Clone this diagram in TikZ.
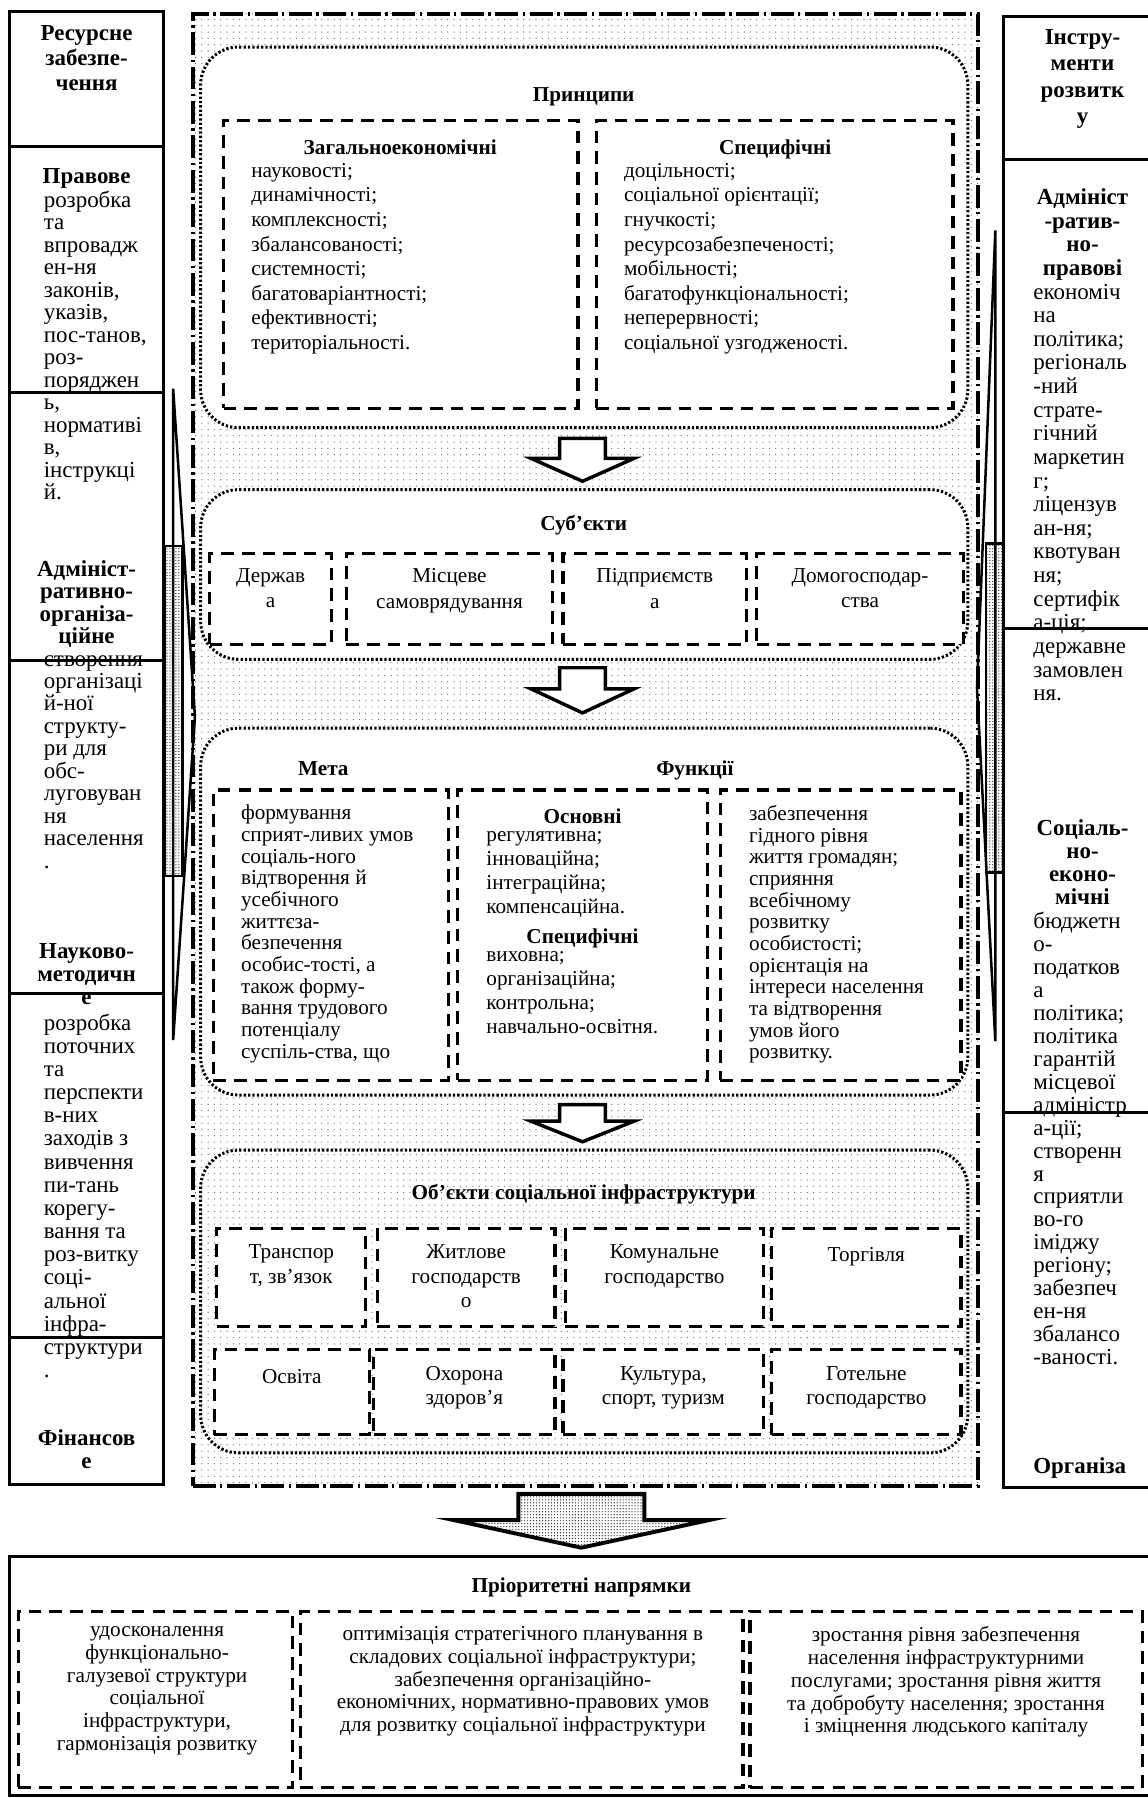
\documentclass[tikz,border=0pt]{standalone}
\usepackage{fontspec}
\setmainfont{Liberation Serif}
\usetikzlibrary{calc,patterns.meta}
\tikzset{
	column box/.style={draw, line width=2.6pt},
	main frame/.style={
		draw,
		line width=3.4pt,
		dash pattern=on 20pt off 4pt on 2pt off 4pt,
		pattern={Dots[distance=5.5pt,radius=.55pt]},
		pattern color=black!60,
		inner sep=0pt
	},
	round frame/.style={
		draw,
		rounded corners=33pt,
		line width=2.6pt,
		dash pattern=on 2pt off 1.8pt,
		inner sep=0pt
	},
	cell box/.style={
		draw,
		fill=white,
		line width=2.8pt,
		dash pattern=on 11pt off 7pt,
		inner sep=0pt
	},
	dense dots/.style={pattern={Dots[distance=2.6pt,radius=.6pt]}, pattern color=black!80},
	wedge line/.style={draw, line width=2.2pt, line join=miter},
	hollow arrow/.style={draw, fill=white, line width=3pt, line join=miter},
	big arrow/.style={draw, dense dots, line width=3.4pt, line join=miter}
}
\tikzset{
	base text/.style={inner sep=0pt, execute at begin node=\strut},
	head text/.style={base text, anchor=north, align=center, font=\fontsize{18.5}{21.4}\selectfont\bfseries},
	list text/.style={base text, anchor=north west, align=left, font=\fontsize{18.5}{#1}\selectfont},
	cell text/.style={base text, anchor=north, align=center, font=\fontsize{18.5}{#1}\selectfont},
	col head/.style={base text, anchor=north, align=center, font=\fontsize{20}{#1}\selectfont\bfseries},
	col head/.default=20.2,
	col text/.style={base text, anchor=north west, align=left, font=\fontsize{20}{#1}\selectfont},
	col text/.default=20.2
}
% block arrow: style, start, tip, half shaft, half head, head length
\newcommand{\blockarrow}[6]{%
	\draw[#1] let \p1=#2, \p2=#3 in
		(\x1-#4,\y1) -- (\x1+#4,\y1) -- (\x1+#4,\y2+#6) -- (\x1+#5,\y2+#6)
		-- (\x1,\y2) -- (\x1-#5,\y2+#6) -- (\x1-#4,\y2+#6) -- cycle;
}
\begin{document}
\begin{tikzpicture}[x=1pt,y=-1pt]
	\useasboundingbox (0,0) rectangle (1001,1568);
	\node[main frame, minimum width=685, minimum height=1284] (frame) at (510.5,654) {};

	% side columns
	\draw[wedge line] (151,339) -- (170,625) -- (151,907) -- cycle;
	\draw[wedge line, dense dots] (144,476) rectangle (159,764);
	\draw[wedge line] (868,201) -- (852,600) -- (868,908) -- cycle;
	\draw[wedge line, dense dots] (860,474) rectangle (875,761);
	\draw[column box, fill=white] (8,10) rectangle (143,1295);
	\foreach \y in {128,342,576,866,1166}
		\draw[column box] (8,\y) -- (143,\y);
	\draw[column box, fill=white] (875,14) rectangle (1012,1297);
	\foreach \y in {139,548,970}
		\draw[column box] (875,\y) -- (1012,\y);

	\node[col head=21.7] (res-h) at (75.5,22.1) {Ресурсне\\забезпе-\\чення};
	\node[col head=19.6] (law-h) at (75.5,145.9) {Правове};
	\node[col text=19.6] (law-t) at (38,166.3) {розробка\\та\\впровадж\\ен-ня\\законів,\\указів,\\пос-танов,\\роз-\\поряджен\\ь,\\нормативі\\в,\\інструкці\\й.};
	\node[col head=19.6] (adm-h) at (75.5,488.6) {Адмініст-\\ративно-\\організа-\\ційне};
	\node[col text=19.6] (adm-t) at (38,571.2) {створення\\організаці\\й-ної\\структу-\\ри для\\обс-\\луговуван\\ня\\населення\\.};
	\node[col head] (sci-h) at (75.5,822.4) {Науково-\\методичн\\е};
	\node[col text] (sci-t) at (38,883.8) {розробка\\поточних\\та\\перспекти\\в-них\\заходів з\\вивчення\\пи-тань\\корегу-\\вання та\\роз-витку\\соці-\\альної\\інфра-\\структури\\.};
	\node[col head] (fin-h) at (75.5,1246.4) {Фінансов\\е};

	\node[col head=23] (tool-h) at (944,25.5) {Інстру-\\менти\\розвитк\\у};
	\node[col head=20.6] (admr-h) at (944,164.2) {Адмініст\\-ратив-\\но-\\правові};
	\node[col text=20.6] (admr-t) at (901,247.4) {економіч\\на\\політика;\\регіональ\\-ний\\страте-\\гічний\\маркетин\\г;\\ліцензув\\ан-ня;\\квотуван\\ня;\\сертифік\\а-ція;\\державне\\замовлен\\ня.};
	\node[col head=20] (soc-h) at (944,714.6) {Соціаль-\\но-\\еконо-\\мічні};
	\node[col text=20] (soc-t) at (901,795.4) {бюджетн\\о-\\податков\\а\\політика;\\політика\\гарантій\\місцевої\\адміністр\\а-ції;\\створенн\\я\\сприятли\\во-го\\іміджу\\регіону;\\забезпеч\\ен-ня\\збалансо\\-ваності.};
	\node[col head, anchor=north west] (org-h) at (901,1270.6) {Організа};

	% principles
	\node[round frame, fill=white, minimum width=669, minimum height=332] (prin) at (509.5,207) {};
	\node[cell box, minimum width=309, minimum height=251] (prin-gen) at (349.5,230.5) {};
	\node[cell box, minimum width=311, minimum height=251] (prin-spec) at (675.5,230.5) {};
	\node[head text] (prin-t) at (509,73.3) {Принципи};
	\node[head text] (gen-h) at (349,119.3) {Загальноекономічні};
	\node[list text=21.4] (gen-t) at (219,142.3) {науковості;\\динамічності;\\комплексності;\\збалансованості;\\системності;\\багатоваріантності;\\ефективності;\\територіальності.};
	\node[head text] (spec-h) at (676,119.3) {Специфічні};
	\node[list text=21.4] (spec-t) at (544,142.3) {доцільності;\\соціальної орієнтації;\\гнучкості;\\ресурсозабезпеченості;\\мобільності;\\багатофункціональності;\\неперервності;\\соціальної узгодженості.};

	% subjects
	\node[round frame, fill=white, minimum width=669, minimum height=148] (subj) at (509.5,501) {};
	\node[head text] (subj-t) at (509,447.3) {Суб’єкти};
	\node[cell box, minimum width=106, minimum height=79] (state) at (236,522.5) {};
	\node[cell box, minimum width=180, minimum height=79] (local) at (392,522.5) {};
	\node[cell box, minimum width=160, minimum height=79] (firm) at (571,522.5) {};
	\node[cell box, minimum width=180, minimum height=79] (home) at (750,522.5) {};
	\node[cell text=22] (state-t) at (state.center |- 0,495.9) {Держав\\а};
	\node[cell text=22] (local-t) at (local.center |- 0,495.9) {Місцеве\\самоврядування};
	\node[cell text=22] (firm-t) at (firm.center |- 0,495.9) {Підприємств\\а};
	\node[cell text=22] (home-t) at (home.center |- 0,495.9) {Домогосподар-\\ства};

	% goal and functions
	\node[round frame, fill=white, minimum width=669, minimum height=320] (goal) at (509.5,795) {};
	\node[cell box, minimum width=205, minimum height=253] (goal-c) at (288.5,815.5) {};
	\node[cell box, minimum width=218, minimum height=253] (func-c) at (508,815.5) {};
	\node[cell box, minimum width=210, minimum height=253] (task-c) at (733,815.5) {};
	\node[head text] (goal-h) at (282,661) {Мета};
	\node[head text] (func-h) at (606,661) {Функції};
	\node[list text=18.9] (goal-t) at (210,702) {формування\\сприят-ливих умов\\соціаль-ного\\відтворення й\\усебічного\\життєза-\\безпечення\\особис-тості, а\\також форму-\\вання трудового\\потенціалу\\суспіль-ства, що};
	\node[head text] (basic-h) at (508,702.6) {Основні};
	\node[list text=21] (basic-t) at (424,724.8) {регулятивна;\\інноваційна;\\інтеграційна;\\компенсаційна.};
	\node[head text] (fspec-h) at (508,807.6) {Специфічні};
	\node[list text=21] (fspec-t) at (424,829.8) {виховна;\\організаційна;\\контрольна;\\навчально-освітня.};
	\node[list text=18.9] (task-t) at (653,702) {забезпечення\\гідного рівня\\життя громадян;\\сприяння\\всебічному\\розвитку\\особистості;\\орієнтація на\\інтереси населення\\та відтворення\\умов його\\розвитку.};

	% objects
	\node[round frame, minimum width=669, minimum height=264] (obj) at (509.5,1135) {};
	\node[head text] (obj-t) at (509,1031.3) {Об’єкти соціальної інфраструктури};
	\node[cell box, minimum width=130, minimum height=86] (trans) at (254,1114) {};
	\node[cell box, minimum width=155, minimum height=86] (house) at (406.5,1114) {};
	\node[cell box, minimum width=173, minimum height=86] (comm) at (579.5,1114) {};
	\node[cell box, minimum width=165, minimum height=86] (trade) at (755.5,1114) {};
	\node[cell box, minimum width=135, minimum height=74] (edu) at (254.5,1214) {};
	\node[cell box, minimum width=158, minimum height=74] (health) at (405,1214) {};
	\node[cell box, minimum width=175, minimum height=74] (cult) at (578.5,1214) {};
	\node[cell box, minimum width=165, minimum height=74] (hotel) at (755.5,1214) {};
	\node[cell text=21] (trans-t) at (trans.center |- 0,1085.6) {Транспор\\т, зв’язок};
	\node[cell text=21] (house-t) at (house.center |- 0,1085.6) {Житлове\\господарств\\о};
	\node[cell text=21] (comm-t) at (comm.center |- 0,1085.6) {Комунальне\\господарство};
	\node[cell text=21] (trade-t) at (trade.center |- 0,1085.6) {Торгівля};
	\node[cell text=21] (edu-t) at (edu.center |- 0,1191.6) {Освіта};
	\node[cell text=21] (health-t) at (health.center |- 0,1191.6) {Охорона\\здоров’я};
	\node[cell text=21] (cult-t) at (cult.center |- 0,1191.6) {Культура,\\спорт, туризм};
	\node[cell text=21] (hotel-t) at (hotel.center |- 0,1191.6) {Готельне\\господарство};

	% priorities
	\node[column box, inner sep=0pt, minimum width=1004, minimum height=209] (prio) at (510,1461.5) {};
	\node[head text] (prio-t) at (507,1373.3) {Пріоритетні напрямки};
	\node[cell box, minimum width=239, minimum height=154] (prio-a) at (135.5,1482) {};
	\node[cell box, minimum width=386, minimum height=154] (prio-b) at (455,1482) {};
	\node[cell box, minimum width=342, minimum height=154] (prio-c) at (825,1482) {};
	\node[cell text=19.8] (prio-at) at (137,1418.4) {удосконалення\\функціонально-\\галузевої структури\\соціальної\\інфраструктури,\\гармонізація розвитку};
	\node[cell text=19.8] (prio-bt) at (456,1418.4) {оптимізація стратегічного планування в\\складових соціальної інфраструктури;\\забезпечення організаційно-\\економічних, нормативно-правових умов\\для розвитку соціальної інфраструктури};
	\node[cell text=19.8] (prio-ct) at (825,1418.4) {зростання рівня забезпечення\\населення інфраструктурними\\послугами; зростання рівня життя\\та добробуту населення; зростання\\і зміцнення людського капіталу};

	% arrows
	\blockarrow{hollow arrow}{($(prin.south)+(-1.5,8)$)}{($(subj.north)+(-1.5,-6)$)}{20pt}{45pt}{20pt}
	\blockarrow{hollow arrow}{($(subj.south)+(-1.5,6)$)}{($(goal.north)+(-1.5,-12)$)}{20pt}{45pt}{21pt}
	\blockarrow{hollow arrow}{($(goal.south)+(-1.5,7)$)}{($(obj.north)+(-1.5,-6)$)}{20pt}{45pt}{18pt}
	\blockarrow{big arrow}{($(frame.south)+(-3.5,5)$)}{($(prio.north)+(-3,-6)$)}{55pt}{111pt}{24pt}
\end{tikzpicture}
\end{document}
